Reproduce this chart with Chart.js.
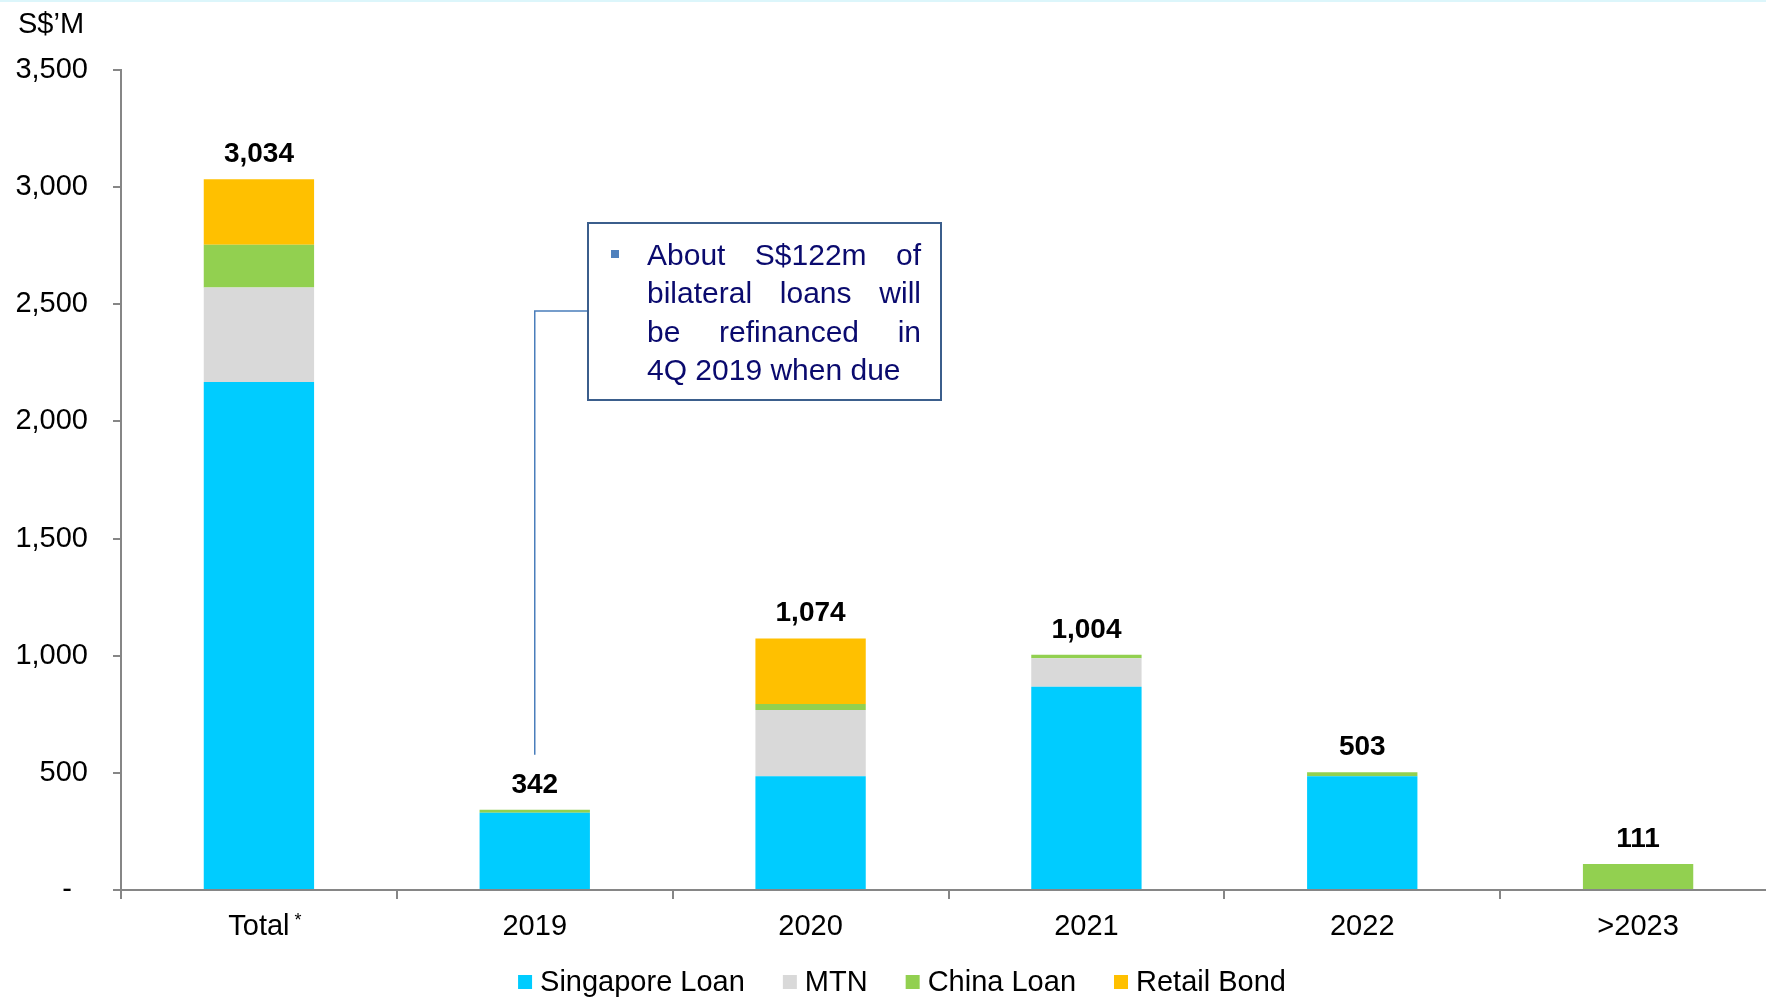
<!DOCTYPE html>
<html>
<head>
<meta charset="utf-8">
<script src="https://cdn.jsdelivr.net/npm/chart.js@4.4.1/dist/chart.umd.min.js"></script>
<style>
    html, body { margin: 0; padding: 0; background: #ffffff; overflow: hidden; }
    #wrap { position: relative; width: 1776px; height: 998px; }
    #topline { position: absolute; left: 0; top: 0; width: 100%; height: 2px; background: #dcf6fb; }
</style>
</head>
<body>
<div id="wrap">
    <canvas id="debtChart" width="1776" height="998"></canvas>
    <div id="topline"></div>
</div>
<script>
// Debt maturity profile (S$'M)
const categories = ["Total", "2019", "2020", "2021", "2022", ">2023"];
const singaporeLoan = [2168, 330, 486, 867, 485, 0];
const mtn = [404, 0, 282, 122, 0, 0];
const chinaLoan = [182, 12, 26, 15, 18, 111];
const retailBond = [280, 0, 280, 0, 0, 0];
const yTickValues = [0, 500, 1000, 1500, 2000, 2500, 3000, 3500];

const noteLines = [
    ["About", "S$122m", "of"],
    ["bilateral", "loans", "will"],
    ["be", "refinanced", "in"],
    ["4Q 2019 when due"]
];

const FONT = "Arial, 'Liberation Sans', sans-serif";
const AXIS_GREY = "#868686";

// Totals above each stack, y-axis unit, footnote star, legend row and the call-out box
const extrasPlugin = {
    id: "extras",
    afterDraw(chart) {
        const ctx = chart.ctx;
        const x = chart.scales.x;
        const y = chart.scales.y;
        const totals = categories.map((c, i) =>
            singaporeLoan[i] + mtn[i] + chinaLoan[i] + retailBond[i]);

        ctx.save();
        ctx.fillStyle = "#000";
        ctx.font = "bold 28px " + FONT;
        ctx.textAlign = "center";
        ctx.textBaseline = "alphabetic";
        totals.forEach((t, i) => {
            ctx.fillText(t.toLocaleString("en-US"), x.getPixelForValue(i), y.getPixelForValue(t) - 17);
        });

        // unit label
        ctx.font = "29px " + FONT;
        ctx.textAlign = "left";
        ctx.fillText("S$\u2019M", 18, 33);

        // footnote star next to "Total"
        const tw = ctx.measureText("Total").width;
        ctx.font = "18px " + FONT;
        ctx.textBaseline = "top";
        ctx.fillText("*", x.getPixelForValue(0) + tw / 2 + 5, 912);

        // legend row, centred under the bars
        ctx.font = "29px " + FONT;
        ctx.textBaseline = "middle";
        const sets = chart.data.datasets;
        const box = 14, boxGap = 8, itemGap = 38, legendY = 982;
        const textW = sets.map(d => ctx.measureText(d.label).width);
        const rowW = textW.reduce((a, w) => a + box + boxGap + w, 0) + itemGap * (sets.length - 1);
        let lx = 902 - rowW / 2;
        sets.forEach((d, i) => {
            ctx.fillStyle = d.backgroundColor;
            ctx.fillRect(lx, legendY - box / 2, box, box);
            ctx.fillStyle = "#000";
            ctx.fillText(d.label, lx + box + boxGap, legendY + 1);
            lx += box + boxGap + textW[i] + itemGap;
        });

        // call-out box
        const note = { l: 588, t: 223, r: 941, b: 400 };
        const px = x.getPixelForValue(1);
        const py = y.getPixelForValue(totals[1]) - 55;
        ctx.strokeStyle = "#4A7EBB";
        ctx.lineWidth = 1.5;
        ctx.beginPath();
        ctx.moveTo(note.l, 311);
        ctx.lineTo(px, 311);
        ctx.lineTo(px, py);
        ctx.stroke();

        ctx.fillStyle = "#ffffff";
        ctx.fillRect(note.l, note.t, note.r - note.l, note.b - note.t);
        ctx.strokeStyle = "#3B5E8C";
        ctx.lineWidth = 2;
        ctx.strokeRect(note.l, note.t, note.r - note.l, note.b - note.t);

        ctx.fillStyle = "#4F81BD";
        ctx.fillRect(611, 250, 8, 8);

        ctx.fillStyle = "#0A0A6E";
        ctx.font = "30px " + FONT;
        ctx.textBaseline = "alphabetic";
        ctx.textAlign = "left";
        const textL = 647, textR = 921;
        noteLines.forEach((words, li) => {
            const base = 265 + li * 38.4;
            if (words.length === 1) {
                ctx.fillText(words[0], textL, base);
                return;
            }
            const widths = words.map(w => ctx.measureText(w).width);
            const gap = (textR - textL - widths.reduce((a, b) => a + b, 0)) / (words.length - 1);
            let cx = textL;
            words.forEach((w, wi) => {
                ctx.fillText(w, cx, base);
                cx += widths[wi] + gap;
            });
        });
        ctx.restore();
    }
};

const ctx = document.getElementById("debtChart").getContext("2d");
new Chart(ctx, {
    type: "bar",
    data: {
        labels: categories,
        datasets: [
            { label: "Singapore Loan", data: singaporeLoan, backgroundColor: "#00CCFF" },
            { label: "MTN", data: mtn, backgroundColor: "#D9D9D9" },
            { label: "China Loan", data: chinaLoan, backgroundColor: "#92D050" },
            { label: "Retail Bond", data: retailBond, backgroundColor: "#FFC000" }
        ]
    },
    options: {
        responsive: false,
        animation: false,
        devicePixelRatio: 1,
        layout: { padding: { top: 70, right: 0, bottom: 8, left: 0 } },
        datasets: {
            bar: { categoryPercentage: 1, barPercentage: 0.4, borderWidth: 0 }
        },
        scales: {
            x: {
                stacked: true,
                grid: {
                    offset: true,
                    drawOnChartArea: false,
                    drawTicks: true,
                    tickLength: 9,
                    color: AXIS_GREY,
                    lineWidth: 2
                },
                border: { color: AXIS_GREY, width: 2 },
                ticks: { color: "#000", font: { family: FONT, size: 29 }, padding: 11 },
                afterFit(scale) { scale.height = 100; }
            },
            y: {
                stacked: true,
                min: 0,
                max: 3500,
                afterBuildTicks(scale) {
                    scale.ticks = yTickValues.map(v => ({ value: v }));
                },
                grid: {
                    drawOnChartArea: false,
                    drawTicks: true,
                    tickLength: 8,
                    color: AXIS_GREY,
                    lineWidth: 2
                },
                border: { color: AXIS_GREY, width: 2 },
                ticks: {
                    color: "#000",
                    font: { family: FONT, size: 29 },
                    padding: 25,
                    callback: v => v === 0 ? "-  " : v.toLocaleString("en-US")
                },
                afterFit(scale) { scale.width = 121; }
            }
        },
        plugins: {
            legend: { display: false },
            tooltip: { enabled: false }
        }
    },
    plugins: [extrasPlugin]
});
</script>
</body>
</html>
